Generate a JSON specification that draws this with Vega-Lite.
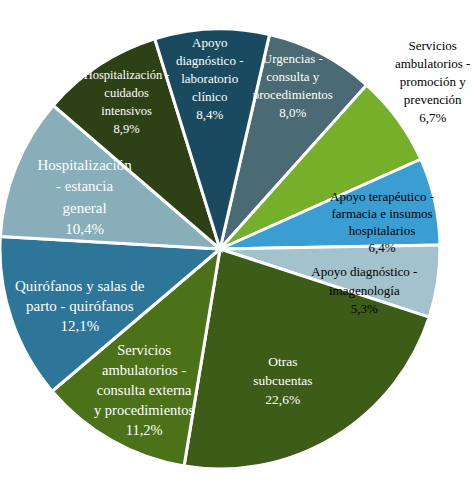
{
  "$schema": "https://vega.github.io/schema/vega-lite/v6.json",
  "autosize": {"type": "none"},
  "width": 440,
  "height": 498,
  "padding": {"left": 0, "top": 0, "right": 32, "bottom": 0},
  "background": "white",
  "view": {"stroke": null},
  "config": {"font": "Liberation Serif", "text": {"font": "Liberation Serif"}},
  "data": {
    "values": [
      {"orden": 1, "cat": "Urgencias", "v": 8.0, "label": "Urgencias  -\nconsulta  y\nprocedimientos\n8,0%"},
      {"orden": 2, "cat": "Promocion", "v": 6.7, "label": "Servicios\nambulatorios  -\npromoción  y\nprevención\n6,7%"},
      {"orden": 3, "cat": "Terapeutico", "v": 6.4, "label": "Apoyo terapéutico  -\nfarmacia  e insumos\nhospitalarios\n6,4%"},
      {"orden": 4, "cat": "Imagenologia", "v": 5.3, "label": "Apoyo diagnóstico  -\nimagenología\n5,3%"},
      {"orden": 5, "cat": "Otras", "v": 22.6, "label": "Otras\nsubcuentas\n22,6%"},
      {"orden": 6, "cat": "Consulta", "v": 11.2, "label": "Servicios\nambulatorios -\nconsulta externa\ny procedimientos\n11,2%"},
      {"orden": 7, "cat": "Quirofanos", "v": 12.1, "label": "Quirófanos y salas de\nparto - quirófanos\n12,1%"},
      {"orden": 8, "cat": "HospGeneral", "v": 10.4, "label": "Hospitalización\n- estancia\ngeneral\n10,4%"},
      {"orden": 9, "cat": "HospUCI", "v": 8.9, "label": "Hospitalización  -\ncuidados\nintensivos\n8,9%"},
      {"orden": 10, "cat": "Laboratorio", "v": 8.4, "label": "Apoyo\ndiagnóstico  -\nlaboratorio\nclínico\n8,4%"}
    ]
  },
  "encoding": {
    "theta": {"field": "v", "type": "quantitative", "stack": true, "scale": {"range": [0.227, 6.510]}},
    "order": {"field": "orden", "type": "quantitative"}
  },
  "layer": [
    {
      "mark": {"type": "arc", "outerRadius": 220, "stroke": "white", "strokeWidth": 3},
      "encoding": {
        "color": {
          "field": "cat", "type": "nominal", "legend": null,
          "scale": {
            "domain": ["Urgencias", "Promocion", "Terapeutico", "Imagenologia", "Otras", "Consulta", "Quirofanos", "HospGeneral", "HospUCI", "Laboratorio"],
            "range": ["#4a6b74", "#76b02a", "#3b9ed3", "#a3c2cb", "#3d5c17", "#4b7219", "#2d7699", "#88aeba", "#2e4116", "#1a4a5f"]
          }
        }
      }
    },
    {
      "mark": {"type": "text", "font": "Liberation Serif", "fontSize": 13, "lineHeight": 18, "lineBreak": "\n", "color": "white", "baseline": "middle", "align": "center", "dx": -11, "dy": -28},
      "encoding": {"detail": {"field": "cat"}, "radius": {"value": 182}, "text": {"condition": {"test": "datum.cat === 'Urgencias'", "field": "label"}, "value": ""}}
    },
    {
      "mark": {"type": "text", "font": "Liberation Serif", "fontSize": 13, "lineHeight": 18, "lineBreak": "\n", "color": "black", "baseline": "middle", "align": "center", "dx": -7, "dy": -43},
      "encoding": {"detail": {"field": "cat"}, "radius": {"value": 272}, "text": {"condition": {"test": "datum.cat === 'Promocion'", "field": "label"}, "value": ""}}
    },
    {
      "mark": {"type": "text", "font": "Liberation Serif", "fontSize": 13, "lineHeight": 17, "lineBreak": "\n", "color": "black", "baseline": "middle", "align": "center", "dx": 0, "dy": -16},
      "encoding": {"detail": {"field": "cat"}, "radius": {"value": 166}, "text": {"condition": {"test": "datum.cat === 'Terapeutico'", "field": "label"}, "value": ""}}
    },
    {
      "mark": {"type": "text", "font": "Liberation Serif", "fontSize": 13, "lineHeight": 18.5, "lineBreak": "\n", "color": "black", "baseline": "middle", "align": "center", "dx": -6, "dy": 1},
      "encoding": {"detail": {"field": "cat"}, "radius": {"value": 152}, "text": {"condition": {"test": "datum.cat === 'Imagenologia'", "field": "label"}, "value": ""}}
    },
    {
      "mark": {"type": "text", "font": "Liberation Serif", "fontSize": 13.5, "lineHeight": 19, "lineBreak": "\n", "color": "white", "baseline": "middle", "align": "center", "dx": -13, "dy": -12},
      "encoding": {"detail": {"field": "cat"}, "radius": {"value": 146}, "text": {"condition": {"test": "datum.cat === 'Otras'", "field": "label"}, "value": ""}}
    },
    {
      "mark": {"type": "text", "font": "Liberation Serif", "fontSize": 14.5, "lineHeight": 20, "lineBreak": "\n", "color": "white", "baseline": "middle", "align": "center", "dx": 8, "dy": -46},
      "encoding": {"detail": {"field": "cat"}, "radius": {"value": 170}, "text": {"condition": {"test": "datum.cat === 'Consulta'", "field": "label"}, "value": ""}}
    },
    {
      "mark": {"type": "text", "font": "Liberation Serif", "fontSize": 15, "lineHeight": 20, "lineBreak": "\n", "color": "white", "baseline": "middle", "align": "center", "dx": 2, "dy": -11},
      "encoding": {"detail": {"field": "cat"}, "radius": {"value": 150}, "text": {"condition": {"test": "datum.cat === 'Quirofanos'", "field": "label"}, "value": ""}}
    },
    {
      "mark": {"type": "text", "font": "Liberation Serif", "fontSize": 15, "lineHeight": 21.5, "lineBreak": "\n", "color": "white", "baseline": "middle", "align": "center", "dx": -1, "dy": -30},
      "encoding": {"detail": {"field": "cat"}, "radius": {"value": 145}, "text": {"condition": {"test": "datum.cat === 'HospGeneral'", "field": "label"}, "value": ""}}
    },
    {
      "mark": {"type": "text", "font": "Liberation Serif", "fontSize": 12.5, "lineHeight": 18.3, "lineBreak": "\n", "color": "white", "baseline": "middle", "align": "center", "dx": 2, "dy": -29},
      "encoding": {"detail": {"field": "cat"}, "radius": {"value": 174}, "text": {"condition": {"test": "datum.cat === 'HospUCI'", "field": "label"}, "value": ""}}
    },
    {
      "mark": {"type": "text", "font": "Liberation Serif", "fontSize": 13, "lineHeight": 18, "lineBreak": "\n", "color": "white", "baseline": "middle", "align": "center", "dx": -4, "dy": -36},
      "encoding": {"detail": {"field": "cat"}, "radius": {"value": 170}, "text": {"condition": {"test": "datum.cat === 'Laboratorio'", "field": "label"}, "value": ""}}
    }
  ]
}
